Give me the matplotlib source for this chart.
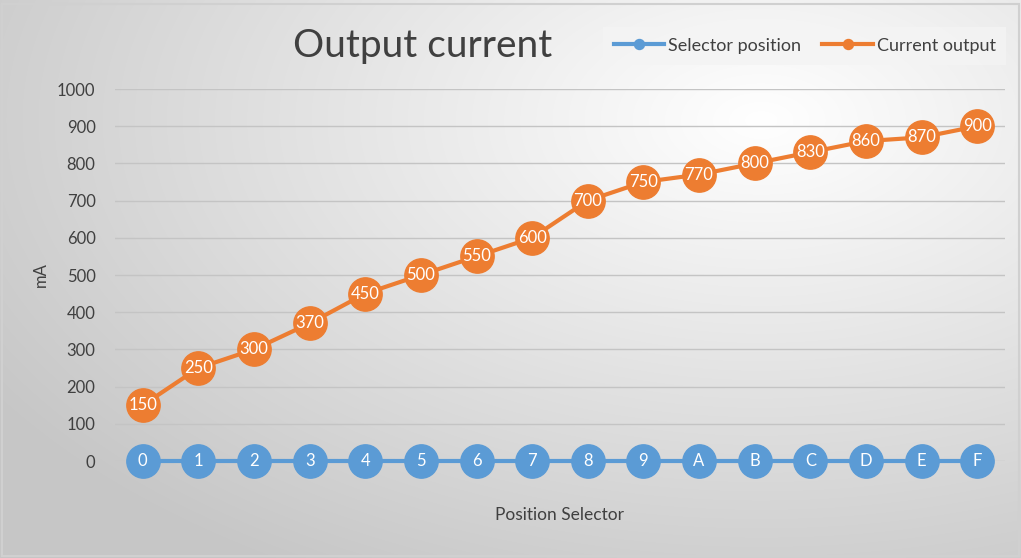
import numpy as np
import matplotlib
matplotlib.use("Agg")
import matplotlib.pyplot as plt

plt.rcParams['font.family'] = ['Lato', 'DejaVu Sans']

positions = ['0', '1', '2', '3', '4', '5', '6', '7', '8', '9', 'A', 'B', 'C', 'D', 'E', 'F']
selector = [0] * 16
current = [150, 250, 300, 370, 450, 500, 550, 600, 700, 750, 770, 800, 830, 860, 870, 900]
yticks = list(range(0, 1001, 100))

blue = '#5b9bd5'
orange = '#ed7d31'

fig = plt.figure(figsize=(10.21, 5.58), dpi=100)

# gradient background
bg = fig.add_axes([0, 0, 1, 1], zorder=-10)
yy, xx = np.mgrid[0:558, 0:1021]
r = np.sqrt(((xx - 760) / 900.0) ** 2 + ((yy - 120) / 520.0) ** 2)
g = np.clip(1.0 - 0.22 * r, 0.78, 1.0)
bg.imshow(np.dstack([g, g, g]), aspect='auto', extent=[0, 1, 0, 1])
bg.add_patch(plt.Rectangle((0.002, 0.003), 0.996, 0.99, fill=False,
                           ec='#d0d0d0', lw=1.5, transform=bg.transAxes))
bg.axis('off')

ax = fig.add_axes([0.1126, 0.1738, 0.8717, 0.6667])
ax.patch.set_alpha(0)
x = np.arange(len(positions))

ax.plot(x, selector, color=blue, lw=3, marker='o', ms=24, clip_on=False,
        zorder=3, label='Selector position')
ax.plot(x, current, color=orange, lw=3, marker='o', ms=24, clip_on=False,
        zorder=3, label='Current output')

for xi, p in zip(x, positions):
    ax.text(xi, 0, p, color='white', ha='center', va='center', fontsize=12, zorder=5)
for xi, v in zip(x, current):
    ax.text(xi, v, str(v), color='white', ha='center', va='center', fontsize=12, zorder=5)

ax.set_xlim(-0.5, 15.5)
ax.set_ylim(0, 1000)
ax.set_yticks(yticks)
ax.set_xticks([])
ax.tick_params(axis='y', length=0, labelsize=12, labelcolor='#404040', pad=14)
ax.grid(axis='y', color='#c4c4c4', lw=1)
for s in ax.spines.values():
    s.set_visible(False)

ax.set_ylabel('mA', fontsize=12, color='#404040', labelpad=6)
ax.set_xlabel('Position Selector', fontsize=12.5, color='#404040', labelpad=33)

fig.text(0.414, 0.918, 'Output current', fontsize=28, color='#404040',
         ha='center', va='center')

leg = fig.legend(loc='center', bbox_to_anchor=(0.788, 0.918), ncol=2, frameon=True,
                 fontsize=13, markerscale=0.3, handlelength=2.8, columnspacing=1.2,
                 handletextpad=0.2)
leg.get_frame().set_facecolor('#f4f4f4')
leg.get_frame().set_edgecolor('none')
leg.get_frame().set_boxstyle('square', pad=0.2)
for t in leg.get_texts():
    t.set_color('#404040')

fig.savefig('out.png', dpi=100)
